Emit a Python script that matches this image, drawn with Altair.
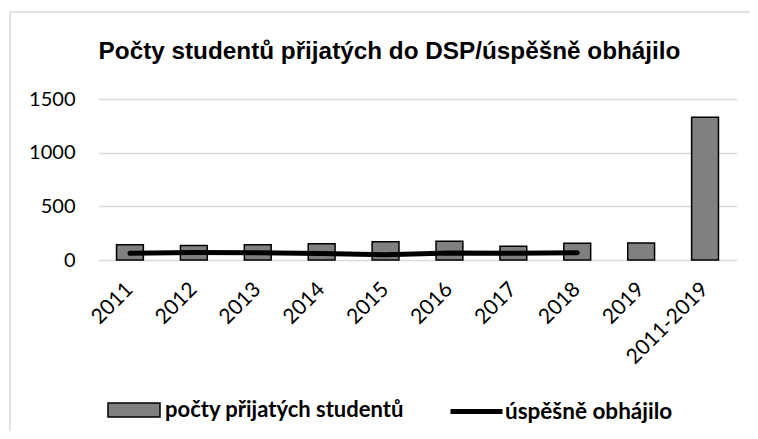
import altair as alt
import pandas as pd

categories = ["2011", "2012", "2013", "2014", "2015", "2016", "2017", "2018", "2019", "2011-2019"]
prijato = [143, 134, 143, 152, 171, 174, 127, 155, 159, 1330]
obhajilo = [62, 70, 68, 60, 48, 65, 63, 68, None, None]

df = pd.DataFrame({"cat": categories, "prijato": prijato, "obhajilo": obhajilo})

BAR_NAME = "počty přijatých studentů"
LINE_NAME = "úspěšně obhájilo"
TITLE = "Počty studentů přijatých do DSP/úspěšně obhájilo"

x_enc = alt.X("cat:N", sort=categories,
              scale=alt.Scale(paddingInner=0.58, paddingOuter=0.29),
              axis=alt.Axis(title=None, labelAngle=-45, labelAlign="right",
                            labelBaseline="middle", labelPadding=26, ticks=False,
                            domain=False, labelFont="Lato", labelFontSize=21,
                            labelColor="#000000", labelOverlap=False))

base = alt.Chart(df)

bars = base.transform_calculate(s1=f"'{BAR_NAME}'").mark_bar(
    stroke="black", strokeWidth=1.5
).encode(
    x=x_enc,
    y=alt.Y("prijato:Q", scale=alt.Scale(domain=[0, 1500], nice=False),
            axis=alt.Axis(title=None, values=[0, 500, 1000, 1500], format="d", ticks=False,
                          domain=False, labelPadding=23, labelFont="Lato",
                          labelFontSize=20, labelColor="#000000",
                          gridColor="#d9d9d9", gridWidth=1.5)),
    fill=alt.Fill("s1:N", scale=alt.Scale(domain=[BAR_NAME], range=["#808080"]),
                  legend=alt.Legend(title=None, orient="none", legendX=9, legendY=284,
                                    symbolType="M-1,-0.27L1,-0.27L1,0.27L-1,0.27Z",
                                    symbolSize=2704, symbolStrokeColor="black",
                                    symbolStrokeWidth=1.5, labelFont="Lato",
                                    labelFontWeight="bold", labelFontSize=22,
                                    labelColor="#000000", labelOffset=4,
                                    labelLimit=400, padding=0)),
)

line = base.transform_calculate(s2=f"'{LINE_NAME}'").mark_line(
    strokeWidth=5, strokeCap="round"
).encode(
    x=alt.X("cat:N", sort=categories),
    y=alt.Y("obhajilo:Q"),
    stroke=alt.Stroke("s2:N", scale=alt.Scale(domain=[LINE_NAME], range=["#000000"]),
                      legend=alt.Legend(title=None, orient="none", legendX=350, legendY=284,
                                        symbolType="stroke", symbolSize=2704,
                                        symbolStrokeWidth=5, labelFont="Lato",
                                        labelFontWeight="bold", labelFontSize=22.5,
                                        labelColor="#000000", labelOffset=0,
                                        labelLimit=400, padding=0)),
)

frame = alt.Chart(alt.Data(values=[{}])).mark_rect(
    fillOpacity=0, stroke="#d9d9d9", strokeWidth=1.5
).encode(
    x=alt.value(-88), x2=alt.value(700), y=alt.value(-87), y2=alt.value(400)
)

chart = alt.layer(frame, bars, line).resolve_scale(fill="independent", stroke="independent").properties(
    width=639, height=161,
    autosize=alt.AutoSizeParams(type="none"),
    padding={"left": 90, "top": 91, "right": 13, "bottom": 171},
    title=alt.TitleParams(TITLE,
                          font="Liberation Sans", fontSize=24.3, fontWeight="bold",
                          color="#000000", anchor="middle", frame="group", dx=-28,
                          baseline="alphabetic", offset=-72),
).configure_view(stroke=None)

chart.save("out.html", embed_options={"renderer": "svg", "actions": False})
